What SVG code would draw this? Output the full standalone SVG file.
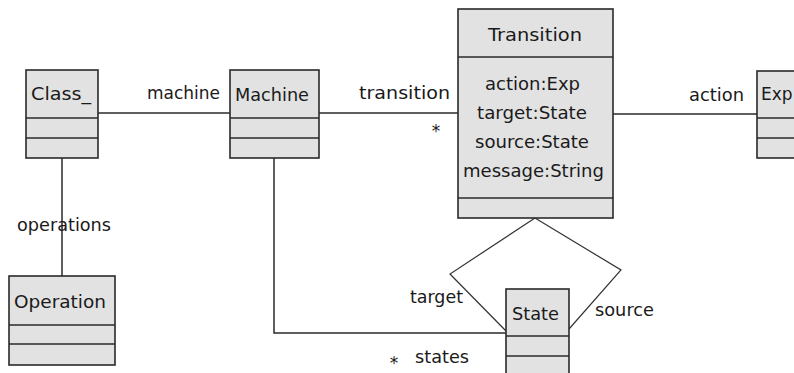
<svg xmlns="http://www.w3.org/2000/svg" width="794" height="373" viewBox="0 0 794 373">
<style>
.box{fill:#e2e2e2;stroke:#2a2a2a;stroke-width:1.6}
.sep{stroke:#2a2a2a;stroke-width:1.6}
.c{fill:none;stroke:#2a2a2a;stroke-width:1.5}
.d{fill:none;stroke:#333;stroke-width:1.2}
text{font-family:"DejaVu Sans",sans-serif;font-size:17px;fill:#1a1a1a}
.m{text-anchor:middle}
</style>
<rect width="794" height="373" fill="#fff"/>
<g id="connectors">
<line class="c" x1="98" y1="113" x2="230" y2="113"/>
<line class="c" x1="319" y1="113" x2="458" y2="113"/>
<line class="c" x1="613" y1="114" x2="757" y2="114"/>
<line class="c" x1="62" y1="158" x2="62" y2="276"/>
<polyline class="c" points="274,158 274,333 506,333"/>
<polyline class="d" points="535,218 450,274 506,331"/>
<polyline class="d" points="535,218 621,270 569,329"/>
<text x="147" y="99" textLength="73" lengthAdjust="spacingAndGlyphs">machine</text>
<text x="359" y="99" textLength="91" lengthAdjust="spacingAndGlyphs">transition</text>
<text x="436" y="137" class="m" font-size="16">*</text>
<text x="689" y="101" textLength="55" lengthAdjust="spacingAndGlyphs">action</text>
<text x="17" y="231" textLength="94" lengthAdjust="spacingAndGlyphs">operations</text>
<text x="410" y="303" textLength="53" lengthAdjust="spacingAndGlyphs">target</text>
<text x="595" y="316" textLength="59" lengthAdjust="spacingAndGlyphs">source</text>
<text x="415" y="363" textLength="54" lengthAdjust="spacingAndGlyphs">states</text>
<text x="394" y="369" class="m" font-size="16">*</text>
</g>
<g id="Class_">
<rect class="box" x="26" y="70" width="72" height="88"/>
<line class="sep" x1="26" y1="118" x2="98" y2="118"/>
<line class="sep" x1="26" y1="138" x2="98" y2="138"/>
<text x="31" y="100" textLength="60" lengthAdjust="spacingAndGlyphs">Class_</text>
</g>
<g id="Machine">
<rect class="box" x="230" y="70" width="89" height="88"/>
<line class="sep" x1="230" y1="118" x2="319" y2="118"/>
<line class="sep" x1="230" y1="138" x2="319" y2="138"/>
<text x="235" y="101" textLength="74" lengthAdjust="spacingAndGlyphs">Machine</text>
</g>
<g id="Transition">
<rect class="box" x="458" y="9" width="155" height="209"/>
<line class="sep" x1="458" y1="57" x2="613" y2="57"/>
<line class="sep" x1="458" y1="198" x2="613" y2="198"/>
<text x="488" y="41" textLength="94" lengthAdjust="spacingAndGlyphs">Transition</text>
<text x="485" y="90" textLength="95" lengthAdjust="spacingAndGlyphs">action:Exp</text>
<text x="477" y="119" textLength="110" lengthAdjust="spacingAndGlyphs">target:State</text>
<text x="475" y="148" textLength="114" lengthAdjust="spacingAndGlyphs">source:State</text>
<text x="463" y="177" textLength="141" lengthAdjust="spacingAndGlyphs">message:String</text>
</g>
<g id="Exp">
<rect class="box" x="757" y="71" width="50" height="87"/>
<line class="sep" x1="757" y1="118" x2="807" y2="118"/>
<line class="sep" x1="757" y1="138" x2="807" y2="138"/>
<text x="761" y="100">Exp</text>
</g>
<g id="Operation">
<rect class="box" x="9" y="276" width="106" height="89"/>
<line class="sep" x1="9" y1="325" x2="115" y2="325"/>
<line class="sep" x1="9" y1="344" x2="115" y2="344"/>
<text x="14" y="308" textLength="92" lengthAdjust="spacingAndGlyphs">Operation</text>
</g>
<g id="State">
<rect class="box" x="506" y="289" width="63" height="100"/>
<line class="sep" x1="506" y1="336" x2="569" y2="336"/>
<line class="sep" x1="506" y1="356" x2="569" y2="356"/>
<text x="512" y="320" textLength="47" lengthAdjust="spacingAndGlyphs">State</text>
</g>
</svg>
